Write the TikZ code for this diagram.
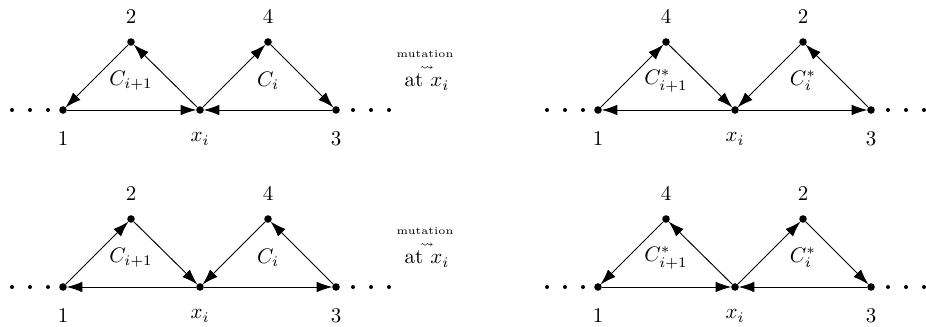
\documentclass[tikz,border=0pt]{standalone}
\usepackage{amsmath,amssymb}
\usetikzlibrary{arrows.meta}
\newcommand\quivbase[7]{%
  % #1 prefix, #2 x of node 1, #3 y, #4 top-left label, #5 top-right label, #6 left C, #7 right C
  \begin{scope}[shift={(#2,#3)}]
    \node[vtx] (#1a) at (0,0) {};
    \node[vtx] (#1x) at (137,0) {};
    \node[vtx] (#1b) at (273,0) {};
    \node[vtx] (#1p) at (68,-68) {};
    \node[vtx] (#1q) at (205,-68) {};
    \node[sdot] (#1l1) at (-51,0) {};
    \node[sdot] (#1l2) at (-33,0) {};
    \node[sdot] (#1l3) at (-15,0) {};
    \node[sdot] (#1r1) at (290,0) {};
    \node[sdot] (#1r2) at (308,0) {};
    \node[sdot] (#1r3) at (326,0) {};
    \node[lbl] (#1ta) at (0,29) {$1$};
    \node[lbl] (#1tx) at (137,29) {$x_i$};
    \node[lbl] (#1tb) at (273,29) {$3$};
    \node[lbl] (#1tp) at (68,-93) {$#4$};
    \node[lbl] (#1tq) at (205,-93) {$#5$};
    \node[lbl] (#1cp) at (68,-29) {$#6$};
    \node[lbl] (#1cq) at (205,-29) {$#7$};
  \end{scope}}
\begin{document}
\begin{tikzpicture}[x=0.4762pt,y=-0.4762pt,
  vtx/.style={circle,fill,inner sep=0pt,minimum size=3.6pt},
  sdot/.style={circle,fill,inner sep=0pt,minimum size=1.9pt},
  arr/.style={-{Latex[length=7.5pt,width=5pt]},line width=0.45pt,shorten >=-0.3pt},
  lbl/.style={inner sep=0pt,anchor=center},
  mut/.style={inner sep=0pt,anchor=center}]
\useasboundingbox (0,0) rectangle (926,327);

% top left
\quivbase{A}{63}{110}{2}{4}{C_{i+1}}{C_i}
\draw[arr] (Ap) -- (Aa);
\draw[arr] (Ax) -- (Ap);
\draw[arr] (Aa) -- (Ax);
\draw[arr] (Ax) -- (Aq);
\draw[arr] (Aq) -- (Ab);
\draw[arr] (Ab) -- (Ax);

% top right
\quivbase{B}{598}{110}{4}{2}{C^*_{i+1}}{C^*_i}
\draw[arr] (Ba) -- (Bp);
\draw[arr] (Bp) -- (Bx);
\draw[arr] (Bq) -- (Bx);
\draw[arr] (Bb) -- (Bq);
\draw[arr] (Bx) -- (Ba);
\draw[arr] (Bx) -- (Bb);

% bottom left
\quivbase{C}{63}{287}{2}{4}{C_{i+1}}{C_i}
\draw[arr] (Ca) -- (Cp);
\draw[arr] (Cp) -- (Cx);
\draw[arr] (Cq) -- (Cx);
\draw[arr] (Cb) -- (Cq);
\draw[arr] (Cx) -- (Ca);
\draw[arr] (Cx) -- (Cb);

% bottom right
\quivbase{D}{598}{287}{4}{2}{C^*_{i+1}}{C^*_i}
\draw[arr] (Dp) -- (Da);
\draw[arr] (Dx) -- (Dp);
\draw[arr] (Dx) -- (Dq);
\draw[arr] (Dq) -- (Db);
\draw[arr] (Da) -- (Dx);
\draw[arr] (Db) -- (Dx);

% mutation labels
\node[mut] (m1) at (425,54) {\tiny mutation};
\node[mut] (s1) at (427,68) {\tiny$\rightsquigarrow$};
\node[mut] (t1) at (427,82) {at $x_i$};
\node[mut] (m2) at (425,231) {\tiny mutation};
\node[mut] (s2) at (427,245) {\tiny$\rightsquigarrow$};
\node[mut] (t2) at (427,259) {at $x_i$};
\end{tikzpicture}
\end{document}
